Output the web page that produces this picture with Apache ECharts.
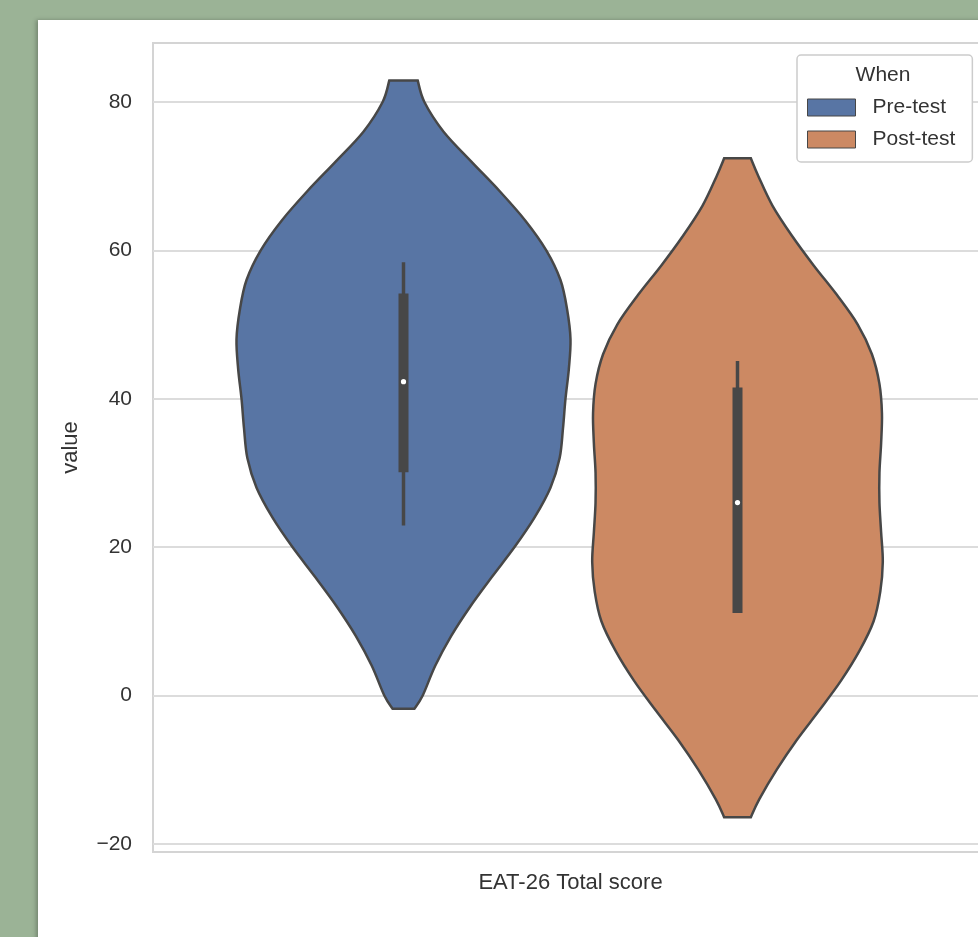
<!DOCTYPE html>
<html>
<head>
<meta charset="utf-8">
<script src="https://cdn.jsdelivr.net/npm/echarts@6/dist/echarts.min.js"></script>
<style>
  html, body { margin: 0; padding: 0; width: 978px; height: 937px; overflow: hidden; background: #9bb396; }
  .card { position: absolute; left: 38px; top: 20px; width: 1000px; height: 960px; background: #fff; box-shadow: -2px 0 4px rgba(0,0,0,0.25); }
  #chart { width: 1000px; height: 917px; }
</style>
</head>
<body>
<div class="card"><div id="chart"></div></div>
<script>
// 数据
const groups = ['Pre-test', 'Post-test']
const xName = 'EAT-26 Total score'
const yTicks = [-20, 0, 20, 40, 60, 80]
const offsets = [-0.2, 0.2]

// violin outline: value, half width (x axis units)
const preValues = [82.9, 80, 76, 72, 68, 64, 60, 56, 52, 48, 44, 40, 36, 32, 28, 24, 20, 16, 12, 8, 4, 0, -1.8]
const preWidths = [0.017, 0.025, 0.048, 0.081, 0.115, 0.146, 0.171, 0.188, 0.196, 0.200, 0.198, 0.194, 0.191, 0.187, 0.176, 0.157, 0.133, 0.106, 0.080, 0.057, 0.038, 0.023, 0.013]
const postValues = [72.4, 70, 66, 62, 58, 54, 50, 46, 42, 38, 34, 30, 26, 22, 18, 14, 10, 6, 2, -2, -6, -10, -14, -16.4]
const postWidths = [0.016, 0.025, 0.042, 0.065, 0.091, 0.119, 0.144, 0.161, 0.170, 0.173, 0.172, 0.170, 0.170, 0.172, 0.174, 0.171, 0.163, 0.146, 0.124, 0.098, 0.071, 0.047, 0.026, 0.016]

// whisker low, q1, median, q3, whisker high
const preBox = [22.9, 30.1, 42.3, 54.2, 58.4]
const postBox = [11.1, 11.1, 26.0, 41.5, 45.1]

const colors = ['#5875a4', '#cc8963']
const lineColor = '#474747'
const font = "'Liberation Sans', Arial, sans-serif"

// 平滑曲线 catmull-rom -> bezier
function smoothSide (pts, first) {
  let d = first ? 'M' + pts[0][0] + ',' + pts[0][1] : 'L' + pts[0][0] + ',' + pts[0][1]
  for (let i = 0; i < pts.length - 1; i++) {
    const p0 = pts[i - 1] || pts[i]
    const p1 = pts[i]
    const p2 = pts[i + 1]
    const p3 = pts[i + 2] || p2
    const c1 = [p1[0] + (p2[0] - p0[0]) / 6, p1[1] + (p2[1] - p0[1]) / 6]
    const c2 = [p2[0] - (p3[0] - p1[0]) / 6, p2[1] - (p3[1] - p1[1]) / 6]
    d += 'C' + c1[0] + ',' + c1[1] + ' ' + c2[0] + ',' + c2[1] + ' ' + p2[0] + ',' + p2[1]
  }
  return d
}

function makeViolin (values, widths, box, color) {
  return function (params, api) {
    const cx = api.value(0)
    const left = values.map((v, i) => api.coord([cx - widths[i], v]))
    const right = values.map((v, i) => api.coord([cx + widths[i], v])).reverse()
    const pathData = smoothSide(left, true) + smoothSide(right, false) + 'Z'
    const wLo = api.coord([cx, box[0]])
    const q1 = api.coord([cx, box[1]])
    const med = api.coord([cx, box[2]])
    const q3 = api.coord([cx, box[3]])
    const wHi = api.coord([cx, box[4]])
    return {
      type: 'group',
      children: [
        {
          type: 'path',
          shape: { pathData: pathData },
          style: { fill: color, stroke: lineColor, lineWidth: 2.5 }
        },
        {
          type: 'line',
          shape: { x1: wLo[0], y1: wLo[1], x2: wHi[0], y2: wHi[1] },
          style: { stroke: lineColor, lineWidth: 3.5 }
        },
        {
          type: 'line',
          shape: { x1: q1[0], y1: q1[1], x2: q3[0], y2: q3[1] },
          style: { stroke: lineColor, lineWidth: 10 }
        },
        {
          type: 'circle',
          shape: { cx: med[0], cy: med[1], r: 2.6 },
          style: { fill: '#ffffff' }
        }
      ]
    }
  }
}

const chart = echarts.init(document.getElementById('chart'))
chart.setOption({
  animation: false,
  textStyle: { fontFamily: font },
  grid: {
    left: 115,
    top: 23,
    width: 835,
    height: 809,
    show: true,
    borderColor: '#d4d4d4',
    borderWidth: 2
  },
  xAxis: {
    type: 'value',
    min: -0.5,
    max: 0.5,
    name: xName,
    nameLocation: 'middle',
    nameGap: 20,
    nameTextStyle: { fontSize: 22, color: '#333', fontFamily: font },
    axisLine: { show: false },
    axisTick: { show: false },
    axisLabel: { show: false },
    splitLine: { show: false }
  },
  yAxis: {
    type: 'value',
    min: -21.1,
    max: 87.95,
    name: 'value',
    nameLocation: 'middle',
    nameRotate: 90,
    nameGap: 71,
    nameTextStyle: { fontSize: 22, color: '#333', fontFamily: font },
    axisLine: { show: false },
    axisTick: { show: false, customValues: yTicks },
    axisLabel: {
      customValues: yTicks,
      fontSize: 21,
      color: '#333',
      margin: 21,
      formatter: v => (v < 0 ? '\u2212' + Math.abs(v) : String(v))
    },
    splitLine: { show: true, lineStyle: { color: '#dcdcdc', width: 2 } }
  },
  legend: {
    orient: 'vertical',
    left: 759,
    top: 35,
    data: groups.map(g => ({ name: g, icon: 'rect' })),
    itemWidth: 48,
    itemHeight: 17,
    itemGap: 11,
    padding: [42, 17, 12, 10],
    backgroundColor: '#fff',
    borderColor: '#cccccc',
    borderWidth: 1.5,
    borderRadius: 4,
    itemStyle: { borderColor: lineColor, borderWidth: 1 },
    textStyle: { fontSize: 21, color: '#333', fontFamily: font, padding: [0, 0, 0, 12] }
  },
  graphic: [{
    type: 'text',
    x: 845,
    y: 55,
    z: 100,
    style: { text: 'When', fontSize: 21, fill: '#333', font: '21px ' + font, textAlign: 'center', textVerticalAlign: 'middle' }
  }],
  series: [
    {
      name: groups[0],
      type: 'custom',
      color: colors[0],
      renderItem: makeViolin(preValues, preWidths, preBox, colors[0]),
      data: [[offsets[0]]],
      encode: { x: 0 }
    },
    {
      name: groups[1],
      type: 'custom',
      color: colors[1],
      renderItem: makeViolin(postValues, postWidths, postBox, colors[1]),
      data: [[offsets[1]]],
      encode: { x: 0 }
    }
  ]
})
</script>
</body>
</html>
